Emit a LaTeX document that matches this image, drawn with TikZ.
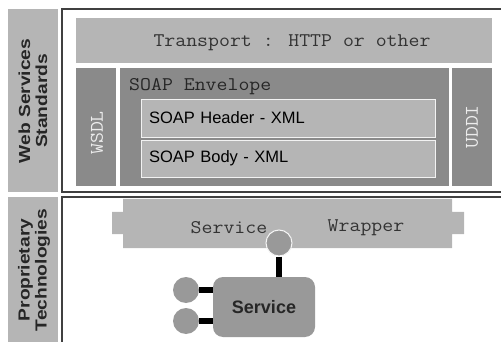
\documentclass[tikz,border=0pt]{standalone}
\usepackage{fontspec}
\setmainfont{Liberation Sans}
\newfontfamily\courierfont[FakeStretch=1.1]{Latin Modern Mono}
\usepackage{tikz}

\definecolor{lightbar}{gray}{0.71}
\definecolor{darkbar}{gray}{0.54}
\definecolor{portgray}{gray}{0.6}
\definecolor{framegray}{gray}{0.25}

\tikzset{
  frame/.style={draw=framegray, line width=1.2pt},
  lightbox/.style={fill=lightbar, inner sep=0pt},
  darkbox/.style={fill=darkbar, inner sep=0pt},
  mono/.style={font=\courierfont\fontsize{19.3}{20}\selectfont, text=black!80},
  vlabel/.style={rotate=90, font=\courierfont\fontsize{19.3}{20}\selectfont, text=white!85!gray},
  sidelabel/.style={rotate=90, xscale=1.2, align=center, font=\bfseries\fontsize{16}{17}\selectfont, text=black!85},
  xmlbox/.style={fill=lightbar, draw=white!90!gray, line width=0.8pt, minimum width=294pt, text width=278pt, inner xsep=8pt, align=left, font=\fontsize{16.5}{18}\selectfont},
  port/.style={circle, fill=portgray, minimum size=26pt, inner sep=0pt},
  wire/.style={line width=5.5pt, black}
}

\begin{document}
\begin{tikzpicture}[x=1pt,y=-1pt]
\useasboundingbox (0,0) rectangle (501,342);

\begin{scope}
\clip (0,0) rectangle (501,342);
\draw[frame] (62,9) rectangle (530,192);
\draw[frame] (62,197) rectangle (530,360);
\fill[lightbar] (8,9) rectangle (58,192);
\fill[lightbar] (8,197) rectangle (58,360);
\end{scope}

\node[sidelabel] (wss) at (33,101) {Web Services\\Standards};
\node[sidelabel] (prop) at (34,270) {Proprietary\\Technologies};

% web services stack
\node[lightbox, minimum width=416pt, minimum height=45pt] (transport) at (284,40.5) {};
\node[mono] at (292,43) {Transport : HTTP or other};
\node[darkbox, minimum width=40pt, minimum height=118pt] (wsdl) at (96,127) {};
\node[vlabel] at (97,133) {WSDL};
\node[darkbox, minimum width=329pt, minimum height=118pt] (envelope) at (284.5,127) {};
\node[mono, anchor=west, inner sep=0pt, text=black!85] (envlabel) at (129,87) {SOAP Envelope};
\node[xmlbox, minimum height=38pt] (header) at (288,118) {SOAP Header - XML};
\node[xmlbox, minimum height=37pt] (body) at (288,158.5) {SOAP Body - XML};
\node[darkbox, minimum width=40pt, minimum height=118pt] (uddi) at (472,127) {};
\node[vlabel] at (472,127) {UDDI};

% proprietary part
\fill[lightbar] (123,199) -- (452,199) -- (452,212) -- (464,212) -- (464,234) -- (452,234)
  -- (452,248) -- (123,248) -- (123,234) -- (112,234) -- (112,212) -- (123,212) -- cycle;
\node[mono] (wrapleft) at (229,228) {Service};
\node[mono] (wrapright) at (366,228) {Wrapper};

\node[fill=portgray, rounded corners=10pt, minimum width=102pt, minimum height=60pt,
  font=\bfseries\fontsize{18}{20}\selectfont, text=black!85] (service) at (264,307) {Service};
\node[port, draw=white!92!gray, line width=1pt] (topport) at (279,243) {};
\node[port] (portA) at (186,290) {};
\node[port] (portB) at (186,321) {};

\draw[wire] (topport.south) -- (topport.south |- service.north);
\draw[wire] (portA.east) -- (portA.east -| service.west);
\draw[wire] (portB.east) -- (portB.east -| service.west);
\end{tikzpicture}
\end{document}
